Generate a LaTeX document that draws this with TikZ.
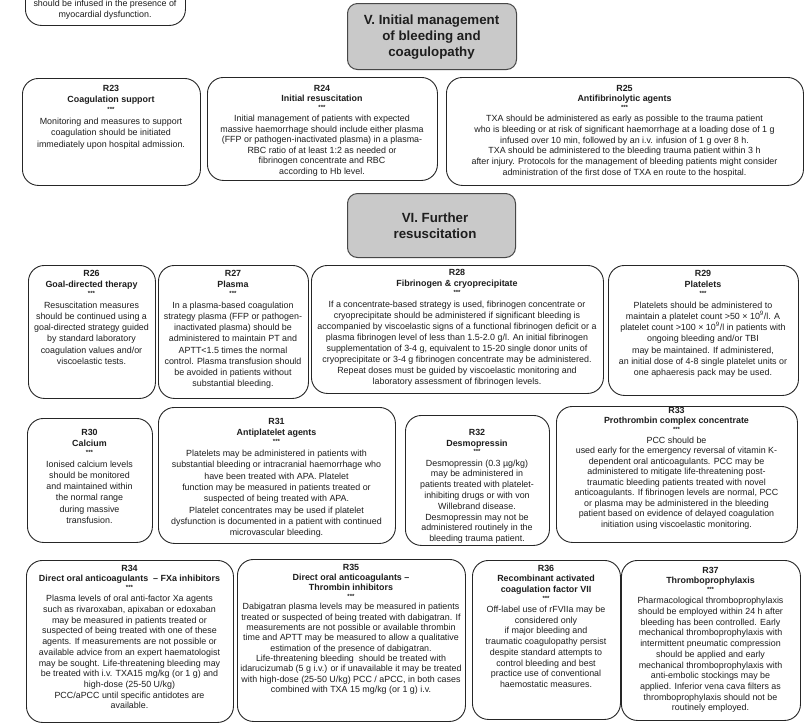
\documentclass[tikz,border=0pt]{standalone}
\usepackage{fontspec}
\setmainfont{Liberation Sans}
\definecolor{txtc}{HTML}{1E1E1E}
\definecolor{hdrfill}{HTML}{C9C9C9}
\definecolor{edgec}{HTML}{262626}
\tikzset{
  recbox/.style={draw=edgec, line width=0.9pt, rounded corners=16pt, fill=white, inner sep=0pt},
  hdrbox/.style={draw=edgec!85, line width=1pt, rounded corners=10pt, fill=hdrfill, inner sep=0pt},
  rtext/.style={align=center, inner sep=0pt, text=txtc, anchor=north},
  hdrtext/.style={align=center, inner sep=0pt, text=txtc, font=\fontsize{13.3}{16}\selectfont\bfseries},
}
\newcommand\stars{\\[-3pt]{\fontsize{6}{6}\selectfont\bfseries ***}\\[1.5pt]}
\newcommand\rhead[2]{\textbf{#1}\\\textbf{#2}\stars}
\newcommand\rheadtwo[3]{\textbf{#1}\\\textbf{#2}\\\textbf{#3}\stars}
% #1 name, #2 x1, #3 y1, #4 x2, #5 y2, #6 first line centre y, #7 leading, #8 text
\newcommand\rbox[8]{%
  \node[recbox, anchor=north west, minimum width={(#4-#2)*1pt}, minimum height={(#5-#3)*1pt}] (#1) at (#2,#3) {};
  \node[rtext, font=\fontsize{8.9}{#7}\selectfont] (#1t) at ({(#2+#4)/2},{#6-3.2}) {#8};
}
\begin{document}
\begin{tikzpicture}[x=1pt,y=-1pt]
\useasboundingbox (0,0) rectangle (806,724);
\clip (0,0) rectangle (806,724);
\fill[white] (0,0) rectangle (806,724);

% partial box from the previous section
\node[recbox, anchor=north west, minimum width=160pt, minimum height=80pt] (b22) at (25,-55) {};
\node[rtext, font=\fontsize{8.9}{11}\selectfont] (b22t) at (105,-0.5) {should be infused in the presence of\\myocardial dysfunction.};

% section headers
\node[hdrbox, anchor=north west, minimum width=169pt, minimum height=66pt] (hv) at (347,3) {};
\node[hdrtext] (hvt) at (431.5,37) {V. Initial management\\of bleeding and\\coagulopathy};
\node[hdrbox, anchor=north west, minimum width=168pt, minimum height=64pt] (hvi) at (347,193) {};
\node[hdrtext] (hvit) at (435,226) {VI. Further\\resuscitation};

% row 1
\rbox{b23}{22}{78}{200}{185}{88}{11.5}{\rhead{R23}{Coagulation support}Monitoring and measures to support\\coagulation should be initiated\\immediately upon hospital admission.}
\rbox{b24}{207}{77}{437}{180}{88}{10.6}{\rhead{R24}{Initial resuscitation}Initial management of patients with expected\\massive haemorrhage should include either plasma\\(FFP or pathogen-inactivated plasma) in a plasma-\\RBC ratio of at least 1:2 as needed or\\fibrinogen concentrate and RBC\\according to Hb level.}
\rbox{b25}{446}{77}{803}{185}{88}{10.7}{\rhead{R25}{Antifibrinolytic agents}TXA should be administered as early as possible to the trauma patient\\who is bleeding or at risk of significant haemorrhage at a loading dose of 1 g\\infused over 10 min, followed by an i.v. infusion of 1 g over 8 h.\\TXA should be administered to the bleeding trauma patient within 3 h\\after injury. Protocols for the management of bleeding patients might consider\\administration of the first dose of TXA en route to the hospital.}

% row 2
\rbox{b26}{28}{265}{155}{398}{273}{11.2}{\rhead{R26}{Goal-directed therapy}Resuscitation measures\\should be continued using a\\goal-directed strategy guided\\by standard laboratory\\coagulation values and/or\\viscoelastic tests.}
\rbox{b27}{158}{265}{308}{398}{273}{11.2}{\rhead{R27}{Plasma}In a plasma-based coagulation\\strategy plasma (FFP or pathogen-\\inactivated plasma) should be\\administered to maintain PT and\\APTT<1.5 times the normal\\control. Plasma transfusion should\\be avoided in patients without\\substantial bleeding.}
\rbox{b28}{311}{265}{603}{393}{272}{11.1}{\rhead{R28}{Fibrinogen \& cryoprecipitate}If a concentrate-based strategy is used, fibrinogen concentrate or\\cryoprecipitate should be administered if significant bleeding is\\accompanied by viscoelastic signs of a functional fibrinogen deficit or a\\plasma fibrinogen level of less than 1.5-2.0 g/l. An initial fibrinogen\\supplementation of 3-4 g, equivalent to 15-20 single donor units of\\cryoprecipitate or 3-4 g fibrinogen concentrate may be administered.\\Repeat doses must be guided by viscoelastic monitoring and\\laboratory assessment of fibrinogen levels.}
\rbox{b29}{608}{265}{798}{395}{273}{11.2}{\rhead{R29}{Platelets}Platelets should be administered to\\maintain a platelet count >50 × 10\textsuperscript{9}/l. A\\platelet count >100 × 10\textsuperscript{9}/l in patients with\\ongoing bleeding and/or TBI\\may be maintained. If administered,\\an initial dose of 4-8 single platelet units or\\one aphaeresis pack may be used.}

% row 3
\rbox{b30}{27}{418}{152}{542}{432}{11.2}{\rhead{R30}{Calcium}Ionised calcium levels\\should be monitored\\and maintained within\\the normal range\\during massive\\transfusion.}
\rbox{b31}{158}{407}{395}{543}{421}{11.3}{\rhead{R31}{Antiplatelet agents}Platelets may be administered in patients with\\substantial bleeding or intracranial haemorrhage who\\have been treated with APA. Platelet\\function may be measured in patients treated or\\suspected of being treated with APA.\\Platelet concentrates may be used if platelet\\dysfunction is documented in a patient with continued\\microvascular bleeding.}
\rbox{b32}{405}{415}{549}{545}{432}{10.8}{\rhead{R32}{Desmopressin}Desmopressin (0.3 µg/kg)\\may be administered in\\patients treated with platelet-\\inhibiting drugs or with von\\Willebrand disease.\\Desmopressin may not be\\administered routinely in the\\bleeding trauma patient.}
\rbox{b33}{556}{406}{797}{542}{410}{10.5}{\rhead{R33}{Prothrombin complex concentrate}PCC should be\\used early for the emergency reversal of vitamin K-\\dependent oral anticoagulants. PCC may be\\administered to mitigate life-threatening post-\\traumatic bleeding patients treated with novel\\anticoagulants. If fibrinogen levels are normal, PCC\\or plasma may be administered in the bleeding\\patient based on evidence of delayed coagulation\\initiation using viscoelastic monitoring.}

% row 4
\rbox{b34}{26}{560}{233}{722}{568}{10.7}{\rhead{R34}{Direct oral anticoagulants\ \ – FXa inhibitors}Plasma levels of oral anti-factor Xa agents\\such as rivaroxaban, apixaban or edoxaban\\may be measured in patients treated or\\suspected of being treated with one of these\\agents. If measurements are not possible or\\available advice from an expert haematologist\\may be sought. Life-threatening bleeding may\\be treated with i.v. TXA15 mg/kg (or 1 g) and\\high-dose (25-50 U/kg)\\PCC/aPCC until specific antidotes are\\available.}
\rbox{b35}{237}{559}{465}{721}{567}{10.3}{\rheadtwo{R35}{Direct oral anticoagulants –}{Thrombin inhibitors}Dabigatran plasma levels may be measured in patients\\treated or suspected of being treated with dabigatran. If\\measurements are not possible or available thrombin\\time and APTT may be measured to allow a qualitative\\estimation of the presence of dabigatran.\\Life-threatening bleeding\ \ should be treated with\\idarucizumab (5 g i.v.) or if unavailable it may be treated\\with high-dose (25-50 U/kg) PCC / aPCC, in both cases\\combined with TXA 15 mg/kg (or 1 g) i.v.}
\rbox{b36}{472}{560}{620}{719}{568}{10.7}{\rheadtwo{R36}{Recombinant activated}{coagulation factor VII}Off-label use of rFVIIa may be\\considered only\\if major bleeding and\\traumatic coagulopathy persist\\despite standard attempts to\\control bleeding and best\\practice use of conventional\\haemostatic measures.}
\rbox{b37}{621}{560}{800}{720}{570}{10.7}{\rhead{R37}{Thromboprophylaxis}Pharmacological thromboprophylaxis\\should be employed within 24 h after\\bleeding has been controlled. Early\\mechanical thromboprophylaxis with\\intermittent pneumatic compression\\should be applied and early\\mechanical thromboprophylaxis with\\anti-embolic stockings may be\\applied. Inferior vena cava filters as\\thromboprophylaxis should not be\\routinely employed.}
\end{tikzpicture}
\end{document}
